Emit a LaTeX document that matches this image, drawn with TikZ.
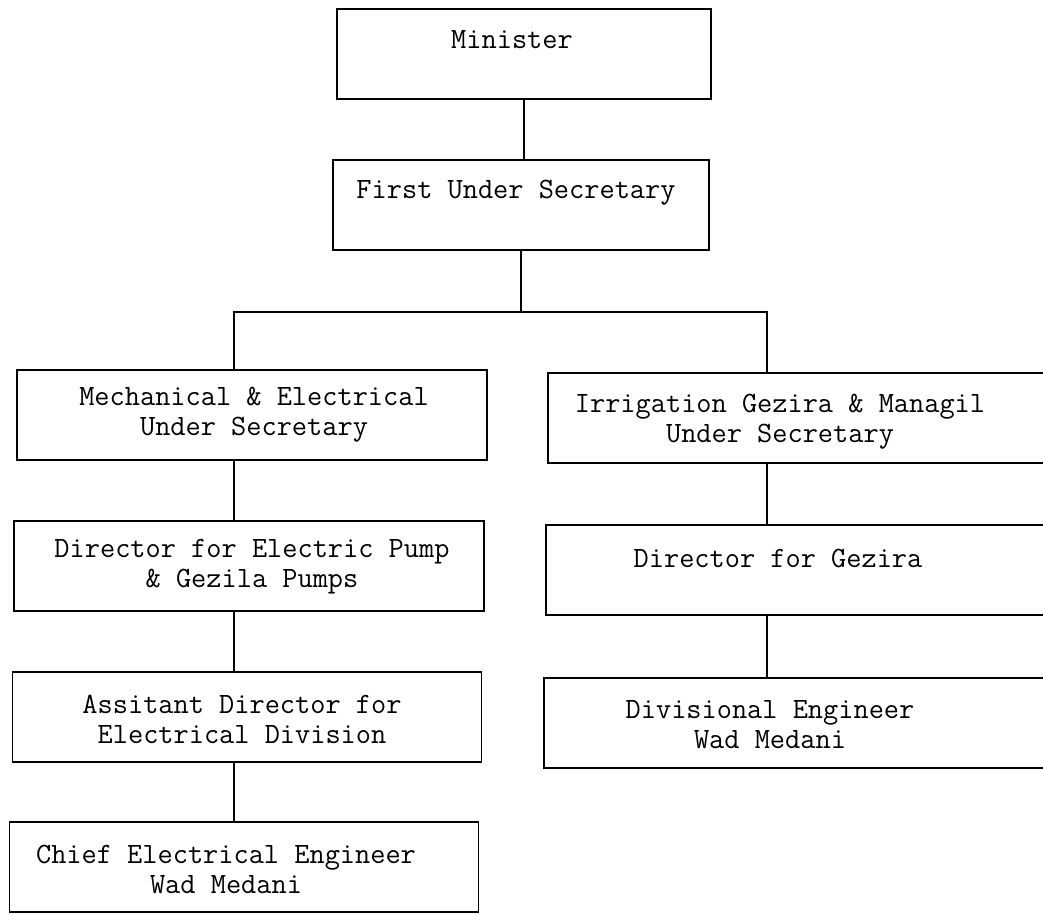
\documentclass[tikz,border=0pt]{standalone}
\usepackage{fontspec}

\begin{document}
\begin{tikzpicture}[x=1pt,y=-1pt]
      \tikzset { box/.style = { shape=rectangle,draw,line width=1.5pt,inner sep=0pt,minimum height=90pt } }
      \tikzset { txt/.style = { align=center,inner sep=0pt,font=\ttfamily\fontsize{29.5}{30}\selectfont } }
      \tikzset { link/.style = { line width=1.5pt } }

      \useasboundingbox (0,0) rectangle (1043,914);

      % boxes
      \node[box,minimum width=374pt] (min) at (524,54) {};
      \node[box,minimum width=376pt] (fus) at (521,205) {};
      \node[box,minimum width=470pt] (mech) at (252,415) {};
      \node[box,minimum width=470pt] (dirp) at (249,566) {};
      \node[box,minimum width=469pt] (asst) at (247,717) {};
      \node[box,minimum width=469pt] (chief) at (244,867) {};
      \node[box,minimum width=520pt] (irr) at (808,418) {};
      \node[box,minimum width=520pt] (dirg) at (806,570) {};
      \node[box,minimum width=520pt] (div) at (804,723) {};

      % texts
      \node[txt] (min-t) at (512,40) {Minister};
      \node[txt] (fus-t) at (516,193) {First Under Secretary};
      \node[txt] (mech-t) at (254,415) {Mechanical \& Electrical\\Under Secretary};
      \node[txt] (dirp-t) at (252,567) {Director for Electric Pump\\\& Gezila Pumps};
      \node[txt] (asst-t) at (242,719) {Assitant Director for\\Electrical Division};
      \node[txt] (chief-t) at (226,869) {Chief Electrical Engineer\\Wad Medani};
      \node[txt] (irr-t) at (780,422) {Irrigation Gezira \& Managil\\Under Secretary};
      \node[txt] (dirg-t) at (778,558) {Director for Gezira};
      \node[txt] (div-t) at (770,725) {Divisional Engineer\\Wad Medani};

      % connectors
      \coordinate (bus) at (521,312);
      \coordinate (lcol) at (234,312);
      \coordinate (rcol) at (767,312);

      \draw[link] (min.south) to (min.south |- fus.north);
      \draw[link] (fus.south) to (bus);
      \draw[link] (mech.north -| lcol) -- (lcol) -- (rcol) -- (irr.north -| rcol);
      \draw[link] (mech.south -| lcol) to (dirp.north -| lcol);
      \draw[link] (dirp.south -| lcol) to (asst.north -| lcol);
      \draw[link] (asst.south -| lcol) to (chief.north -| lcol);
      \draw[link] (irr.south -| rcol) to (dirg.north -| rcol);
      \draw[link] (dirg.south -| rcol) to (div.north -| rcol);

    \end{tikzpicture}
\end{document}
